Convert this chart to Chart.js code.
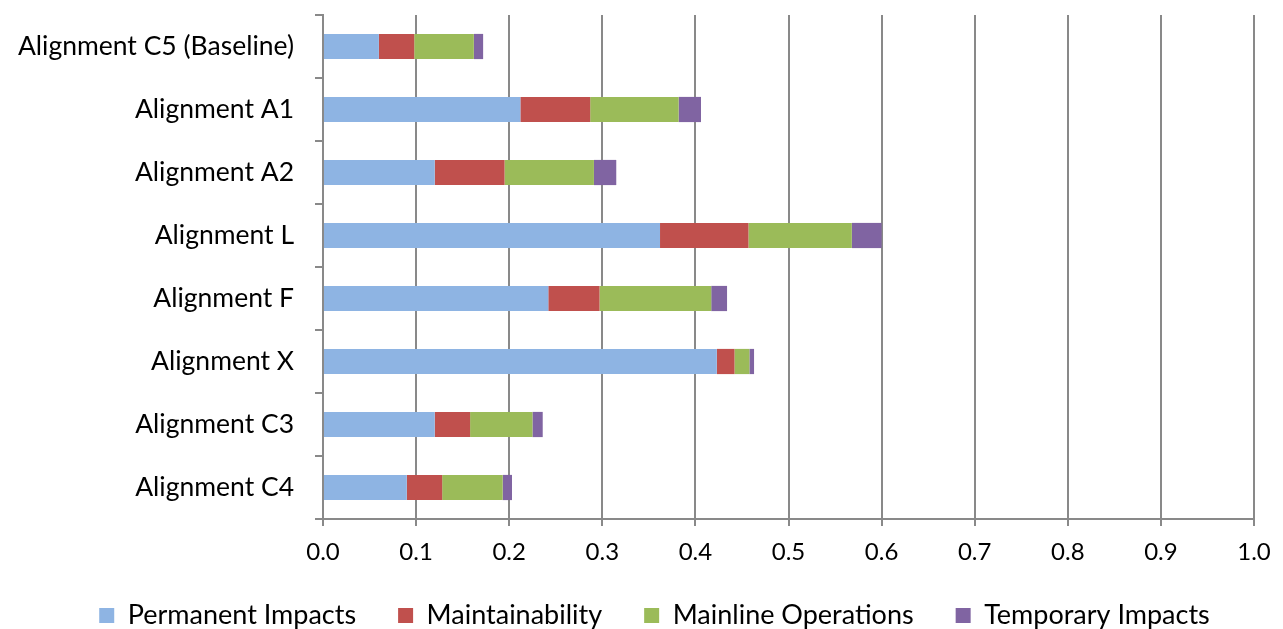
<!DOCTYPE html>
<html>
<head>
<meta charset="utf-8">
<script src="https://cdn.jsdelivr.net/npm/chart.js@4.4.1/dist/chart.umd.min.js"></script>
<style>
  html, body { margin: 0; padding: 0; background: #fff; }
  #wrap { width: 1283px; height: 629px; position: relative; }
</style>
</head>
<body>
<div id="wrap"><canvas id="c" width="1283" height="629"></canvas></div>
<script>
// Alternatives, top to bottom
const categories = [
  'Alignment C5 (Baseline)', 'Alignment A1', 'Alignment A2', 'Alignment L',
  'Alignment F', 'Alignment X', 'Alignment C3', 'Alignment C4'
];

// Weighted impact components per alternative
const permanentImpacts   = [0.060, 0.212, 0.120, 0.362, 0.242, 0.423, 0.120, 0.090];
const maintainability    = [0.038, 0.075, 0.075, 0.095, 0.055, 0.019, 0.038, 0.038];
const mainlineOperations = [0.064, 0.095, 0.096, 0.111, 0.120, 0.016, 0.067, 0.065];
const temporaryImpacts   = [0.010, 0.024, 0.024, 0.032, 0.017, 0.005, 0.011, 0.010];

const seriesNames = ['Permanent Impacts', 'Maintainability', 'Mainline Operations', 'Temporary Impacts'];
const xTicks = [0.0, 0.1, 0.2, 0.3, 0.4, 0.5, 0.6, 0.7, 0.8, 0.9, 1.0];

const colors = ['#8EB4E3', '#C0504D', '#9BBB59', '#8064A2'];
const seriesData = [permanentImpacts, maintainability, mainlineOperations, temporaryImpacts];

const FONT = 'Lato, "Open Sans", sans-serif';
const GRID = '#898989';
const X_AXIS_HEIGHT = 45;
const LEGEND_HEIGHT = 65;

// Keeps the legend strip compact while allowing wide gaps between its items,
// and nudges the row slightly right of centre.
const legendStrip = {
  id: 'legendStrip',
  beforeLayout(chart) {
    const lg = chart.legend;
    if (lg && !lg.__compact) {
      const fit = lg.fit;
      lg.fit = function () { fit.call(this); this.height = LEGEND_HEIGHT; };
      lg.__compact = true;
    }
  },
  afterLayout(chart) {
    const lg = chart.legend;
    if (!lg) return;
    const dx = 27.5, dy = -4;
    lg.left += dx; lg.right += dx;
    lg.top += dy;
    lg.bottom = chart.height;
  }
};

new Chart(document.getElementById('c'), {
  type: 'bar',
  data: {
    labels: categories,
    datasets: seriesNames.map((name, i) => ({
      label: name,
      data: seriesData[i],
      backgroundColor: colors[i],
      borderWidth: 0,
      barPercentage: 0.4,
      categoryPercentage: 1.0
    }))
  },
  plugins: [legendStrip],
  options: {
    indexAxis: 'y',
    responsive: false,
    animation: false,
    layout: { padding: { top: 15, right: 29, left: 0, bottom: 0 } },
    plugins: {
      tooltip: { enabled: false },
      legend: {
        position: 'bottom',
        labels: {
          font: { family: FONT, size: 27 },
          color: '#000',
          boxWidth: 15,
          boxHeight: 15,
          padding: 42
        }
      }
    },
    scales: {
      x: {
        stacked: true,
        min: 0,
        max: 1,
        afterBuildTicks: (scale) => { scale.ticks = xTicks.map(v => ({ value: v })); },
        ticks: {
          font: { family: FONT, size: 24 },
          color: '#000',
          padding: 12,
          callback: (v) => Number(v).toFixed(1)
        },
        grid: { color: GRID, lineWidth: 2, tickLength: 7, drawTicks: true },
        border: { color: GRID, width: 2 },
        afterFit: (scale) => { scale.height = X_AXIS_HEIGHT; scale.paddingLeft = 0; scale.paddingRight = 0; }
      },
      y: {
        stacked: true,
        ticks: {
          font: { family: FONT, size: 26.5 },
          color: '#000',
          padding: 21
        },
        grid: { drawOnChartArea: false, color: GRID, lineWidth: 2, tickLength: 8, offset: true },
        border: { color: GRID, width: 2 },
        afterFit: (scale) => { scale.width = 323; scale.paddingTop = 0; scale.paddingBottom = 0; }
      }
    }
  }
});
</script>
</body>
</html>
